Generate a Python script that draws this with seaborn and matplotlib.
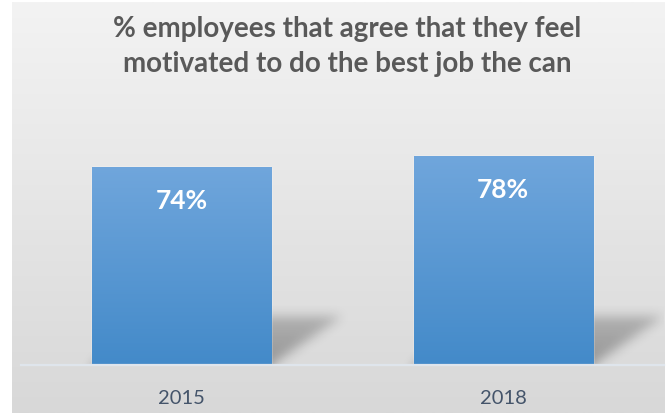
import numpy as np
import matplotlib
matplotlib.use("Agg")
import matplotlib.pyplot as plt
import seaborn as sns
from matplotlib.colors import to_rgb

# ---- data -------------------------------------------------------------
years = ["2015", "2018"]
agree_pct = [74, 78]
title_lines = [
    "% employees that agree that they feel",
    "motivated to do the best job the can",
]

# ---- style ------------------------------------------------------------
sns.set_theme(style="white")
plt.rcParams["font.family"] = ["Lato", "DejaVu Sans"]

W_PX, H_PX, DPI = 670, 414, 100
fig = plt.figure(figsize=(W_PX / DPI, H_PX / DPI), dpi=DPI)
fig.patch.set_facecolor("white")


def vertical_gradient(top_hex, bottom_hex, n=256):
    t = np.linspace(0, 1, n)[:, None, None]
    top = np.array(to_rgb(top_hex))[None, None, :]
    bot = np.array(to_rgb(bottom_hex))[None, None, :]
    return top + (bot - top) * t


def gaussian_blur(img, sigma):
    radius = int(3 * sigma)
    k = np.exp(-0.5 * (np.arange(-radius, radius + 1) / sigma) ** 2)
    k /= k.sum()
    out = np.apply_along_axis(lambda r: np.convolve(r, k, mode="same"), 1, img)
    out = np.apply_along_axis(lambda c: np.convolve(c, k, mode="same"), 0, out)
    return out


# chart-area panel with a soft grey vertical gradient
bg = fig.add_axes([12 / W_PX, 0, 653 / W_PX, 411 / H_PX], zorder=-2)
bg.imshow(vertical_gradient("#f3f3f3", "#d8d8d8"), aspect="auto",
          extent=(0, 1, 0, 1), origin="upper", interpolation="bilinear")
bg.set_axis_off()

# plot area
ax_left, ax_right = 21, 664
ax_bottom_px, ax_top_px = 366, 98
ax = fig.add_axes([ax_left / W_PX, (H_PX - ax_bottom_px) / H_PX,
                   (ax_right - ax_left) / W_PX,
                   (ax_bottom_px - ax_top_px) / H_PX])
ax.set_facecolor("none")

sns.barplot(x=years, y=agree_pct, color="#5b9bd5", width=0.557,
            saturation=1, ax=ax, zorder=3)
ax.set_xlim(-0.5, 1.5)
ax.set_ylim(0, 100)

bars = list(ax.containers[0])

# ---- soft cast shadows behind the bars ---------------------------------
ax_w = int(round(ax.bbox.width))
ax_h = int(round(ax.bbox.height))
pad = 18
yy, xx = np.mgrid[-pad:ax_h, 0:ax_w]
shadow = np.zeros(yy.shape)
dx, dy = 70.0, 48.0
for patch in bars:
    (lx, _), (rx, _) = ax.transData.transform(
        [(patch.get_x(), 0), (patch.get_x() + patch.get_width(), 0)])
    lx -= ax.bbox.x0
    rx -= ax.bbox.x0
    shift = dx * np.clip(yy, 0, None) / dy
    inside = (yy <= dy) & (xx >= lx + shift) & (xx <= rx + shift)
    # slightly denser close to the bar, fading towards the far corner
    strength = 1.0 - 0.35 * np.clip(yy, 0, None) / dy
    shadow[inside] = np.maximum(shadow[inside], strength[inside])
shadow = gaussian_blur(shadow, 5.5)[pad:, :]
shadow_rgba = np.zeros((ax_h, ax_w, 4))
shadow_rgba[..., 3] = 0.32 * shadow
ax.imshow(shadow_rgba, extent=(-0.5, 1.5, 0, 100), origin="lower",
          aspect="auto", zorder=1, interpolation="bilinear")

# ---- gradient fill on each bar ------------------------------------------
bar_grad = vertical_gradient("#70a6dc", "#438ac9")
for patch in bars:
    x0, y0 = patch.get_x(), patch.get_y()
    w, h = patch.get_width(), patch.get_height()
    im = ax.imshow(bar_grad, extent=(x0, x0 + w, y0, y0 + h), origin="upper",
                   aspect="auto", zorder=4, interpolation="bilinear")
    im.set_clip_path(patch)

ax.set_xlim(-0.5, 1.5)
ax.set_ylim(0, 100)

# value labels inside the bars
for patch, v in zip(bars, agree_pct):
    ax.annotate(f"{v}%", xy=(patch.get_x() + patch.get_width() / 2, v),
                xytext=(0, -33 * 72 / DPI), textcoords="offset points",
                ha="center", va="center", color="white", fontsize=19,
                fontweight="bold", zorder=6)

# axes cosmetics
ax.set_xlabel("")
ax.set_ylabel("")
ax.set_yticks([])
ax.tick_params(axis="x", length=0, pad=17, labelsize=14.5,
               labelcolor="#44546a")
for side in ("left", "top", "right"):
    ax.spines[side].set_visible(False)
ax.spines["bottom"].set_color("#dfe5ec")
ax.spines["bottom"].set_linewidth(1.6)
ax.spines["bottom"].set_zorder(5)

# title
for line, base_px in zip(title_lines, (37, 72)):
    fig.text(347 / W_PX, 1 - base_px / H_PX, line, ha="center",
             va="baseline", fontsize=20, fontweight="bold",
             color="#595959")

fig.savefig("out.png", dpi=DPI)
